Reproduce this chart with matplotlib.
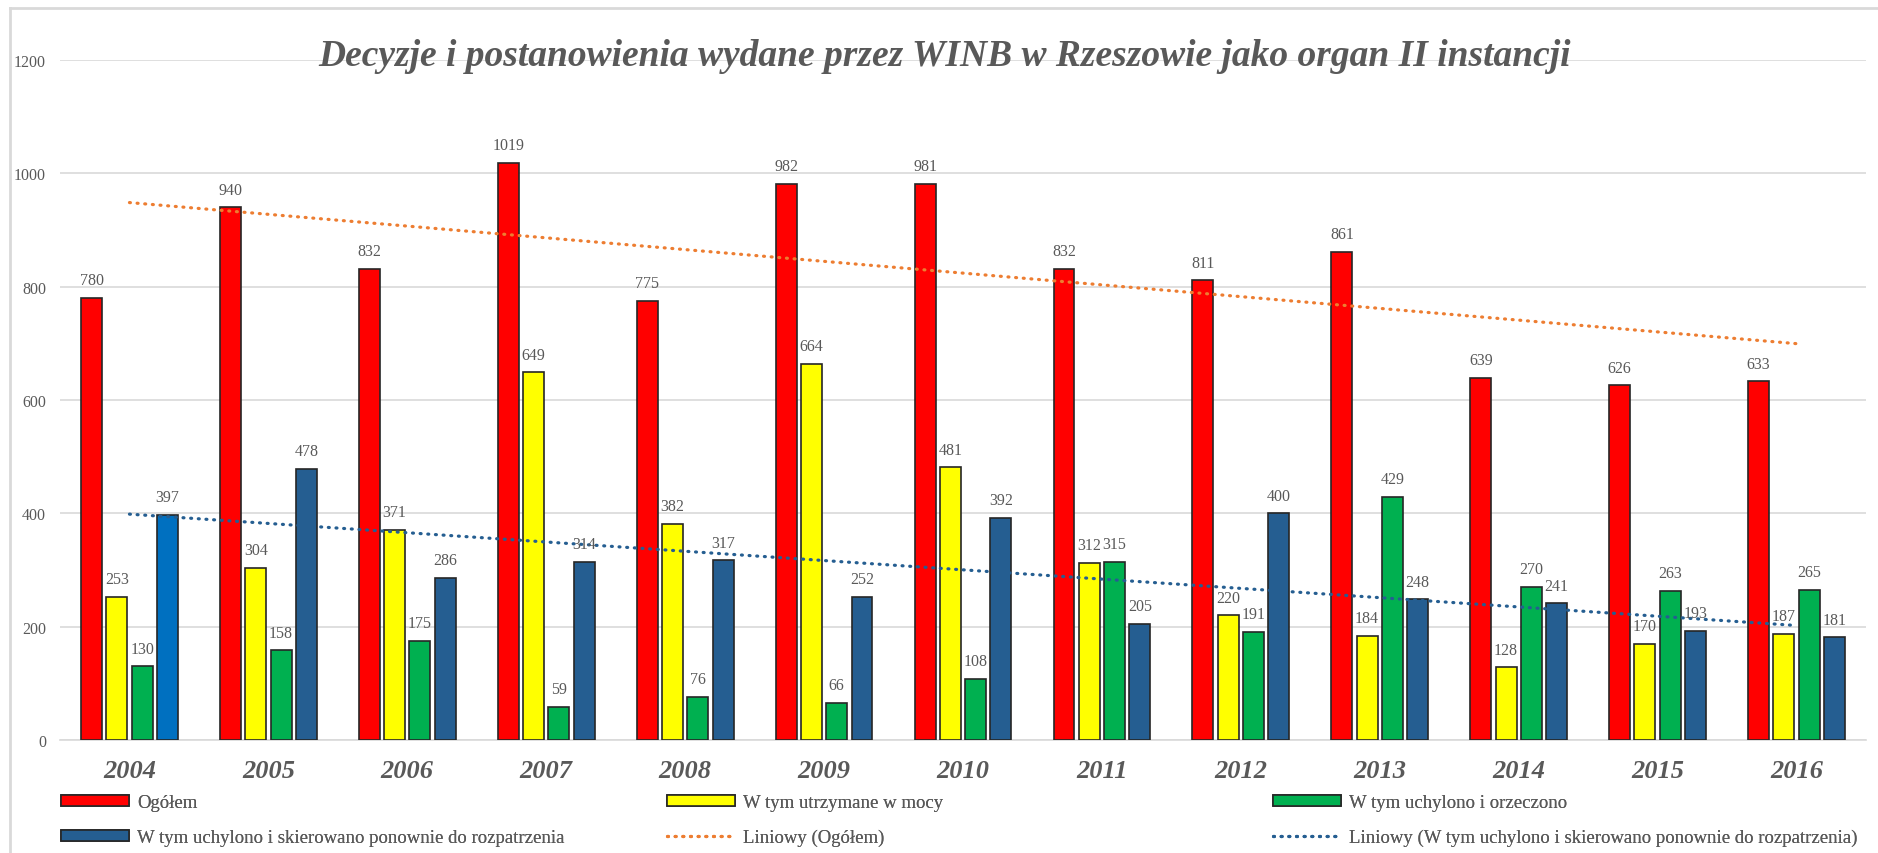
import numpy as np
import matplotlib
matplotlib.use("Agg")
import matplotlib.pyplot as plt
from matplotlib.patches import Patch
from matplotlib.lines import Line2D

years = ["2004", "2005", "2006", "2007", "2008", "2009", "2010",
         "2011", "2012", "2013", "2014", "2015", "2016"]
ogolem = [780, 940, 832, 1019, 775, 982, 981, 832, 811, 861, 639, 626, 633]
utrzymane = [253, 304, 371, 649, 382, 664, 481, 312, 220, 184, 128, 170, 187]
orzeczono = [130, 158, 175, 59, 76, 66, 108, 315, 191, 429, 270, 263, 265]
skierowano = [397, 478, 286, 314, 317, 252, 392, 205, 400, 248, 241, 193, 181]

series_names = ["Ogółem", "W tym utrzymane w mocy", "W tym uchylono i orzeczono",
                "W tym uchylono i skierowano ponownie do rozpatrzenia"]
trend_names = ["Liniowy (Ogółem)",
               "Liniowy (W tym uchylono i skierowano ponownie do rozpatrzenia)"]
title = "Decyzje i postanowienia wydane przez WINB w Rzeszowie jako organ II instancji"

RED, YEL, GRN, BLU, BLU0 = "#FF0000", "#FFFF00", "#00B050", "#255E91", "#0070C0"
ORANGE = "#ED7D31"
GRAY = "#595959"
GRID = "#D9D9D9"
SERIF = ["Liberation Serif", "DejaVu Serif"]
DOTS = (0, (0.3, 2.1))

W, H = 1878, 854
fig = plt.figure(figsize=(W / 100, H / 100), dpi=100)
ax = fig.add_axes([60 / W, 1 - 741 / H, 1806 / W, 680 / H])

x = np.arange(len(years))
step, bw = 0.182, 0.151
data = [ogolem, utrzymane, orzeczono, skierowano]
colors = [RED, YEL, GRN, BLU]
for k, (vals, col) in enumerate(zip(data, colors)):
    cols = [col] * len(vals)
    if k == 3:
        cols[0] = BLU0
    bars = ax.bar(x + (k - 1.5) * step, vals, width=bw, color=cols,
                  edgecolor="#262626", linewidth=1.2, zorder=3)
    for b, v in zip(bars, vals):
        ax.annotate(str(v), (b.get_x() + b.get_width() / 2, v),
                    xytext=(0, 7), textcoords="offset points",
                    ha="center", va="bottom", fontsize=11.5,
                    color=GRAY, family=SERIF, zorder=5)

# linear trendlines
for vals, col in [(ogolem, ORANGE), (skierowano, BLU)]:
    p = np.polyfit(x, vals, 1)
    ax.plot(x, np.polyval(p, x), color=col, lw=2.3,
            linestyle=DOTS, dash_capstyle="round", zorder=4)

ax.set_xlim(-0.5, len(years) - 0.5)
ax.set_ylim(0, 1200)
ax.set_yticks(range(0, 1201, 200))
ax.yaxis.grid(True, color=GRID, lw=1.2, zorder=0)
ax.set_axisbelow(True)
for s in ["top", "right", "left"]:
    ax.spines[s].set_visible(False)
ax.spines["bottom"].set_color(GRID)
ax.spines["bottom"].set_linewidth(1.2)
ax.set_xticks(x)
ax.set_xticklabels(years)
ax.tick_params(axis="both", length=0)
ax.tick_params(axis="y", pad=10, labelsize=11.5, labelcolor=GRAY)
ax.tick_params(axis="x", pad=14, labelsize=19, labelcolor=GRAY)
for t in ax.get_yticklabels():
    t.set_family(SERIF)
for t in ax.get_xticklabels():
    t.set_family(SERIF)
    t.set_fontweight("bold")
    t.set_fontstyle("italic")

fig.text(945 / W, 1 - 66 / H, title, ha="center", va="baseline",
         fontsize=27, fontweight="bold", fontstyle="italic",
         color=GRAY, family=SERIF)

# legend (three columns as in the original)
def patch(c):
    return Patch(facecolor=c, edgecolor="#262626", linewidth=1.2)

def tline(c):
    return Line2D([], [], color=c, lw=2.3, linestyle=DOTS,
                  dash_capstyle="round")

cols_spec = [
    (61, [patch(RED), patch(BLU)], [series_names[0], series_names[3]]),
    (667, [patch(YEL), tline(ORANGE)], [series_names[1], trend_names[0]]),
    (1273, [patch(GRN), tline(BLU)], [series_names[2], trend_names[1]]),
]
for xpos, hs, ls in cols_spec:
    leg = fig.legend(hs, ls, loc="upper left",
                     bbox_to_anchor=(xpos / W, 1 - 795 / H),
                     frameon=False, borderpad=0, borderaxespad=0,
                     handlelength=3.6, handleheight=0.55, handletextpad=0.45,
                     labelspacing=0.95,
                     prop={"family": SERIF, "size": 13.5})
    for t in leg.get_texts():
        t.set_color(GRAY)
    fig.add_artist(leg)

# chart area border (left and top visible)
fig.add_artist(Line2D([10 / W, 10 / W], [0, 1 - 9 / H], color=GRID, lw=2,
                      transform=fig.transFigure))
fig.add_artist(Line2D([10 / W, 1], [1 - 9 / H, 1 - 9 / H], color=GRID, lw=2,
                      transform=fig.transFigure))

fig.savefig("out.png", dpi=100, facecolor="white")
